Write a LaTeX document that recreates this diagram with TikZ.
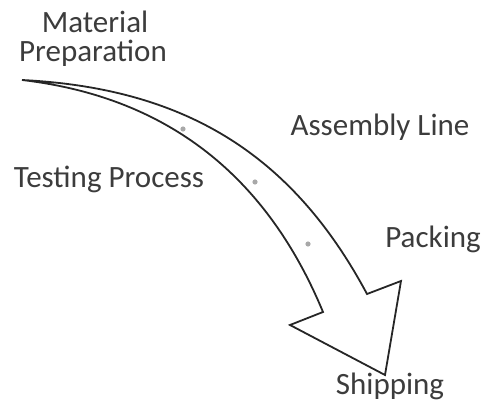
\documentclass[tikz,border=0pt]{standalone}
\usepackage{fontspec}
\setmainfont{Carlito}
\usepackage{xcolor}
\usetikzlibrary{positioning}

\definecolor{txtgray}{HTML}{3C3C3C}
\definecolor{dotgray}{HTML}{A8A8A8}

\tikzset{
	stage/.style={text=txtgray, font=\fontsize{31}{34}\selectfont, inner sep=0pt, anchor=base},
	flow/.style={draw=black!85, line width=1.8pt, line join=miter, fill=white}
}

\begin{document}
\begin{tikzpicture}[x=1pt, y=-1pt]
			\useasboundingbox (0,0) rectangle (482,403);
			
			% arrow outline
			\coordinate (tail) at (22,80);
			\coordinate (neckup) at (367,294);
			\coordinate (barbR) at (401,281);
			\coordinate (tip) at (385,375);
			\coordinate (barbL) at (290,325);
			\coordinate (necklow) at (323,312);
			\draw[flow] (tail) .. controls (180,88) and (290,150) .. (neckup)
				-- (barbR) -- (tip) -- (barbL) -- (necklow)
				.. controls (260,160) and (150,95) .. (tail) -- cycle;
			
			\foreach \x/\y in {183/129, 255/182, 308/244} {
				\fill[dotgray] (\x,\y) circle (2.6);
			}
			
			% labels, placed by baseline
			\node[stage] (material) at (95,33) {Material};
			\node[stage] (prep) at (93,62) {Preparation};
			\node[stage] (assembly) at (380,136) {Assembly Line};
			\node[stage] (testing) at (109,188) {Testing Process};
			\node[stage] (packing) at (433,248) {Packing};
			\node[stage] (shipping) at (390,394) {Shipping};
		\end{tikzpicture}
\end{document}
